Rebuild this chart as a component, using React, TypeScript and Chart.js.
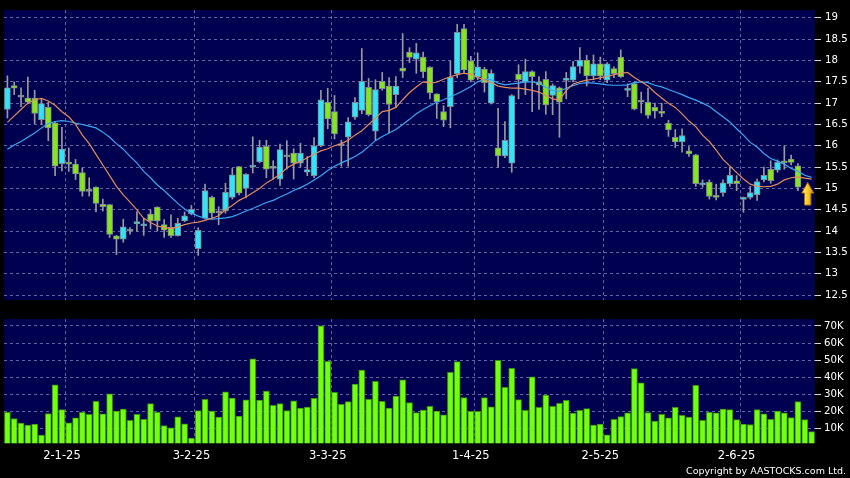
import React, { useEffect, useRef } from 'react';
import { Chart, registerables } from 'chart.js';

Chart.register(...registerables);
Chart.defaults.font.family = "'DejaVu Sans', sans-serif";

const opens = [16.85,17.41,17.14,17.12,17.12,16.61,16.90,16.54,15.58,15.62,
15.57,15.37,14.93,15.03,14.63,14.62,13.89,13.81,14.00,14.17,
14.12,14.40,14.56,14.15,14.09,13.89,14.24,14.41,13.59,14.30,
14.79,14.43,14.47,14.79,15.51,15.00,15.50,15.62,15.99,15.47,
15.22,15.74,15.83,15.59,15.38,15.30,16.00,17.02,16.80,16.00,
16.20,16.67,16.83,17.37,16.34,17.51,17.40,17.20,17.82,18.20,
18.03,18.08,17.84,17.22,16.80,16.92,17.69,18.75,17.99,17.61,
17.80,17.00,15.95,15.76,15.59,17.68,17.49,17.74,17.50,17.56,
17.18,17.36,17.53,17.54,17.86,18.01,17.64,17.92,17.54,17.81,
18.08,17.30,17.46,17.02,17.02,16.90,16.81,16.53,16.20,16.09,
15.88,15.79,15.08,15.15,14.83,14.90,15.11,15.18,14.74,14.79,
14.85,15.20,15.45,15.43,15.64,15.69,15.53,null,null];

const highs = [17.64,17.50,17.36,17.61,17.30,17.10,17.02,16.56,16.43,15.95,
15.68,15.48,15.25,15.04,14.75,14.62,13.90,14.28,14.08,14.45,
14.30,14.50,14.57,14.27,14.38,14.30,14.45,14.60,14.08,15.10,
14.82,14.57,15.12,15.47,15.52,15.35,16.21,16.13,16.13,15.65,
16.04,16.12,15.93,16.06,15.75,16.19,17.30,17.35,17.18,16.13,
16.66,17.13,18.28,17.58,17.55,17.72,17.60,17.62,18.63,18.30,
18.40,18.20,17.86,17.22,16.94,17.99,18.85,18.85,18.10,18.18,
17.84,17.78,16.88,16.57,17.20,17.90,18.03,17.76,17.62,17.74,
17.45,17.38,17.72,17.98,18.30,18.12,18.13,18.08,17.95,17.85,
18.25,17.45,17.50,17.26,17.35,17.00,17.00,16.60,16.38,16.40,
15.98,15.80,15.20,15.20,15.10,15.20,15.50,15.30,14.80,15.05,
15.22,15.50,15.65,15.67,16.00,15.78,15.58,null,null];

const lows = [16.65,17.20,16.92,16.98,16.52,16.50,16.12,15.30,15.41,15.40,
15.21,14.82,14.82,14.45,14.47,13.85,13.45,13.74,13.93,14.00,
13.90,14.05,14.00,13.85,13.85,13.88,14.22,14.38,13.43,14.28,
14.30,14.15,14.42,14.75,14.85,14.78,15.36,15.60,15.25,15.22,
15.07,15.45,15.22,15.50,15.30,15.25,15.98,16.40,16.16,15.52,
15.52,16.62,16.75,16.70,16.13,17.30,16.30,16.90,17.60,17.95,
17.70,17.60,17.10,16.64,16.45,16.42,17.60,17.70,17.50,17.55,
17.26,16.98,15.50,15.72,15.38,17.10,17.20,16.80,16.85,16.74,
16.73,16.20,17.10,17.50,17.70,17.40,17.55,17.55,17.48,17.60,
17.60,17.15,16.84,16.77,16.65,16.65,16.68,16.22,15.96,15.85,
15.75,15.05,15.03,14.75,14.73,14.82,15.05,14.95,14.44,14.75,
14.72,15.15,15.12,15.38,15.45,15.55,14.95,null,null];

const closes = [17.36,17.35,17.14,17.02,16.76,16.99,16.42,15.52,15.92,15.57,
15.34,14.93,14.93,14.65,14.57,13.92,13.81,14.10,14.00,14.22,
14.17,14.24,14.24,14.02,13.89,14.18,14.36,14.51,14.02,14.95,
14.42,14.43,14.91,15.32,14.89,15.33,15.54,15.97,15.45,15.47,
15.91,15.74,15.59,15.83,15.44,16.00,17.08,16.63,16.28,16.00,
16.56,17.02,17.51,16.73,17.32,17.34,16.97,17.40,17.75,18.07,
18.18,17.73,17.24,17.03,16.60,17.61,18.66,17.78,17.54,17.85,
17.48,17.70,15.76,16.13,17.18,17.55,17.74,17.62,17.42,16.96,
17.41,17.02,17.59,17.86,18.01,17.64,17.92,17.64,17.92,17.69,
17.62,17.34,16.86,17.02,16.71,16.81,16.76,16.37,16.09,16.24,
15.81,15.11,15.13,14.81,14.79,15.13,15.31,15.11,14.79,14.90,
15.16,15.31,15.18,15.61,15.60,15.61,15.03,null,null];

const maShort = [16.55,16.70,16.85,17.00,17.08,17.11,17.05,16.95,16.80,16.68,
16.50,16.25,16.05,15.80,15.55,15.30,15.05,14.85,14.68,14.50,
14.30,14.20,14.12,14.08,14.06,14.10,14.15,14.19,14.21,14.25,
14.30,14.36,14.50,14.60,14.72,14.80,14.90,15.00,15.13,15.22,
15.33,15.48,15.57,15.63,15.72,15.80,15.88,15.93,16.00,16.05,
16.13,16.25,16.35,16.50,16.65,16.80,16.83,16.90,17.08,17.25,
17.38,17.50,17.47,17.49,17.56,17.62,17.67,17.70,17.68,17.60,
17.54,17.48,17.40,17.37,17.35,17.35,17.33,17.30,17.26,17.18,
17.10,17.07,17.30,17.45,17.50,17.54,17.56,17.60,17.63,17.67,
17.70,17.72,17.60,17.50,17.40,17.25,17.12,17.00,16.90,16.75,
16.58,16.45,16.25,16.10,15.90,15.68,15.53,15.37,15.22,15.10,
15.05,15.04,15.05,15.10,15.20,15.25,15.27,15.24,15.22];

const maLong = [15.92,16.02,16.10,16.20,16.30,16.42,16.52,16.57,16.59,16.57,
16.53,16.50,16.46,16.42,16.32,16.20,16.05,15.92,15.75,15.60,
15.40,15.25,15.08,14.95,14.80,14.65,14.52,14.42,14.35,14.30,
14.28,14.29,14.31,14.34,14.40,14.47,14.53,14.60,14.67,14.72,
14.80,14.87,14.95,15.02,15.10,15.20,15.30,15.42,15.52,15.60,
15.67,15.75,15.85,15.98,16.12,16.22,16.30,16.38,16.50,16.62,
16.75,16.85,16.94,17.02,17.08,17.15,17.22,17.30,17.39,17.50,
17.56,17.55,17.47,17.43,17.45,17.47,17.50,17.50,17.47,17.37,
17.30,17.28,17.35,17.41,17.46,17.48,17.47,17.45,17.43,17.42,
17.42,17.43,17.48,17.50,17.48,17.42,17.38,17.32,17.26,17.20,
17.13,17.07,17.00,16.92,16.80,16.68,16.56,16.40,16.25,16.08,
15.97,15.82,15.70,15.64,15.57,15.47,15.40,15.31,15.26];

const volumesK = [19.4,15.8,13.1,11.9,12.5,6.1,18.7,35.6,21.0,13.3,
16.2,19.5,18.3,25.9,18.5,30.3,20.2,21.4,14.8,18.3,
15.4,24.5,19.5,11.7,10.4,16.8,12.7,4.4,20.4,27.0,
20.2,16.6,31.5,27.8,17.2,26.8,50.8,26.6,31.9,23.6,
24.5,20.4,26.2,21.9,22.5,27.6,70.0,49.3,31.1,24.1,
25.7,36.0,44.1,27.0,37.6,25.9,21.9,28.9,38.4,25.2,
19.3,20.7,22.9,20.2,17.9,42.9,49.1,28.0,20.0,20.0,
28.0,22.6,49.9,34.0,45.2,26.9,20.6,40.2,22.4,29.5,
23.0,24.7,26.4,19.0,20.6,21.6,11.9,12.5,6.3,15.4,
17.0,19.1,45.0,36.7,19.3,14.3,18.3,16.2,22.4,17.7,
16.6,35.3,14.8,19.5,19.1,21.4,21.0,15.2,12.5,12.3,
21.0,18.5,15.4,20.2,19.1,16.4,25.7,15.2,8.1];

const tickIndices = [8, 27, 47, 68, 87, 107];
const tickLabels = ['2-1-25', '3-2-25', '3-3-25', '1-4-25', '2-5-25', '2-6-25'];
const priceTicks = [12.5, 13, 13.5, 14, 14.5, 15, 15.5, 16, 16.5, 17, 17.5, 18, 18.5, 19];
const volumeTicks = [10, 20, 30, 40, 50, 60, 70];
const arrowTip = 15.14;
const arrowBase = 14.61;

const NAVY = '#000050';
const GRID = 'rgba(125,125,180,0.8)';
const CYAN = '#33e3f7';
const GREEN = '#86e51f';
const DOJI = '#a4a4a4';
const VOL = '#72ff12';
const TEXT = '#ffffff';

const labels = opens.map((_, i) => String(i));
const gridAt = tickIndices.map((i) => i + 1);

const panelBg = {
  id: 'panelBg',
  beforeDraw(chart: any) {
    const { ctx, chartArea: a } = chart;
    ctx.save();
    ctx.fillStyle = NAVY;
    ctx.fillRect(a.left, a.top, a.right - a.left, a.bottom - a.top);
    ctx.restore();
  },
};

const arrowPlugin = {
  id: 'upArrow',
  afterDatasetsDraw(chart: any) {
    const { ctx } = chart;
    const xs = chart.scales.x;
    const ys = chart.scales.y;
    const n = opens.length;
    const cx = (xs.getPixelForValue(n - 2) + xs.getPixelForValue(n - 1)) / 2 - 0.5;
    const top = ys.getPixelForValue(arrowTip);
    const bottom = ys.getPixelForValue(arrowBase);
    const headH = (bottom - top) * 0.47;
    ctx.save();
    const g = ctx.createLinearGradient(cx - 6, 0, cx + 6, 0);
    g.addColorStop(0, '#fff0a0');
    g.addColorStop(0.45, '#ffcf30');
    g.addColorStop(1, '#d99000');
    ctx.beginPath();
    ctx.moveTo(cx, top);
    ctx.lineTo(cx + 6, top + headH);
    ctx.lineTo(cx + 3.2, top + headH);
    ctx.lineTo(cx + 3.2, bottom);
    ctx.lineTo(cx - 3.2, bottom);
    ctx.lineTo(cx - 3.2, top + headH);
    ctx.lineTo(cx - 6, top + headH);
    ctx.closePath();
    ctx.fillStyle = g;
    ctx.fill();
    ctx.strokeStyle = '#a86e00';
    ctx.lineWidth = 1;
    ctx.stroke();
    ctx.restore();
  },
};

function xGridColor(ctx: any) {
  return gridAt.includes(ctx.index) ? GRID : 'rgba(0,0,0,0)';
}

export default function App() {
  const priceRef = useRef<HTMLCanvasElement>(null);
  const volRef = useRef<HTMLCanvasElement>(null);

  useEffect(() => {
    document.body.style.margin = '0';
    document.body.style.background = '#000';
    const bodyColors = opens.map((o, i) => {
      const c = closes[i];
      if (o == null || c == null) return DOJI;
      if (c > o) return CYAN;
      if (c < o) return GREEN;
      return DOJI;
    });

    const price = new Chart(priceRef.current as HTMLCanvasElement, {
      type: 'bar',
      data: {
        labels,
        datasets: [
          {
            type: 'line',
            label: 'MA10',
            data: maShort,
            borderColor: '#e58a5a',
            borderWidth: 1.2,
            pointRadius: 0,
            tension: 0,
            order: 0,
          } as any,
          {
            type: 'line',
            label: 'MA20',
            data: maLong,
            borderColor: '#3ba7f0',
            borderWidth: 1.2,
            pointRadius: 0,
            tension: 0,
            order: 1,
          } as any,
          {
            type: 'bar',
            label: 'body',
            data: opens.map((o, i) => (o == null ? null : [o, closes[i]])),
            backgroundColor: bodyColors,
            borderColor: '#7f8a90',
            borderWidth: 1,
            borderSkipped: false,
            barThickness: 6,
            minBarLength: 2,
            grouped: false,
            order: 2,
          } as any,
          {
            type: 'bar',
            label: 'wick',
            data: lows.map((l, i) => (l == null ? null : [l, highs[i]])),
            backgroundColor: '#9a9a9a',
            borderWidth: 0,
            barThickness: 1,
            grouped: false,
            order: 3,
          } as any,
        ],
      },
      options: {
        responsive: false,
        animation: false,
        layout: { padding: { left: 4, top: 5, right: 0, bottom: 0 } },
        plugins: { legend: { display: false }, tooltip: { enabled: false } },
        scales: {
          x: {
            type: 'category',
            offset: true,
            grid: { offset: true, color: xGridColor, drawTicks: false, lineWidth: 1 },
            border: { display: false, dash: [3, 3] },
            ticks: { display: false, autoSkip: false },
            afterFit: (s: any) => { s.height = 5; },
          },
          y: {
            position: 'right',
            min: 12.387,
            max: 19.181,
            afterBuildTicks: (s: any) => { s.ticks = priceTicks.map((v) => ({ value: v })); },
            grid: { color: GRID, tickColor: '#d8d8d8', tickLength: 6, tickBorderDash: [], lineWidth: 1 },
            border: { display: false, dash: [3, 3] },
            ticks: { color: TEXT, font: { size: 10.2 }, padding: 4, callback: (v: any) => String(v) },
            afterFit: (s: any) => { s.width = 35; },
          },
        },
      } as any,
      plugins: [panelBg, arrowPlugin],
    });

    const vol = new Chart(volRef.current as HTMLCanvasElement, {
      type: 'bar',
      data: {
        labels,
        datasets: [
          {
            label: 'Volume',
            data: volumesK,
            backgroundColor: VOL,
            borderColor: '#3a9208',
            borderWidth: 1,
            barThickness: 6,
          },
        ],
      },
      options: {
        responsive: false,
        animation: false,
        layout: { padding: { left: 4, top: 8, right: 0, bottom: 0 } },
        plugins: { legend: { display: false }, tooltip: { enabled: false } },
        scales: {
          x: {
            offset: true,
            grid: { offset: true, color: xGridColor, drawTicks: false, lineWidth: 1 },
            border: { display: false, dash: [3, 3] },
            ticks: {
              autoSkip: false,
              maxRotation: 0,
              minRotation: 0,
              color: TEXT,
              font: { size: 11.5 },
              padding: 6,
              callback: (_v: any, i: number) => {
                const k = tickIndices.indexOf(i);
                return k >= 0 ? tickLabels[k] : '';
              },
            },
            afterFit: (s: any) => { s.height = 34.7; },
          },
          y: {
            position: 'right',
            min: 1.3,
            max: 74,
            afterBuildTicks: (s: any) => { s.ticks = volumeTicks.map((v) => ({ value: v })); },
            grid: { color: GRID, tickColor: '#d8d8d8', tickLength: 6, tickBorderDash: [], lineWidth: 1 },
            border: { display: false, dash: [3, 3] },
            ticks: { color: TEXT, font: { size: 10.2 }, padding: 3, callback: (v: any) => `${v}K` },
            afterFit: (s: any) => { s.width = 35; },
          },
        },
      } as any,
      plugins: [panelBg],
    });

    return () => {
      price.destroy();
      vol.destroy();
    };
  }, []);

  return (
    <div style={{ position: 'absolute', left: 0, top: 0, width: 850, height: 478, background: '#000', overflow: 'hidden' }}>
      <canvas ref={priceRef} width={850} height={310} style={{ position: 'absolute', left: 0, top: 0, width: 850, height: 310 }} />
      <canvas ref={volRef} width={850} height={168} style={{ position: 'absolute', left: 0, top: 310, width: 850, height: 168 }} />
      <div style={{ position: 'absolute', right: 4, top: 465, color: TEXT, fontFamily: "'DejaVu Sans', sans-serif", fontSize: 9.5, lineHeight: '12px', whiteSpace: 'nowrap' }}>
        Copyright by AASTOCKS.com Ltd.
      </div>
    </div>
  );
}
